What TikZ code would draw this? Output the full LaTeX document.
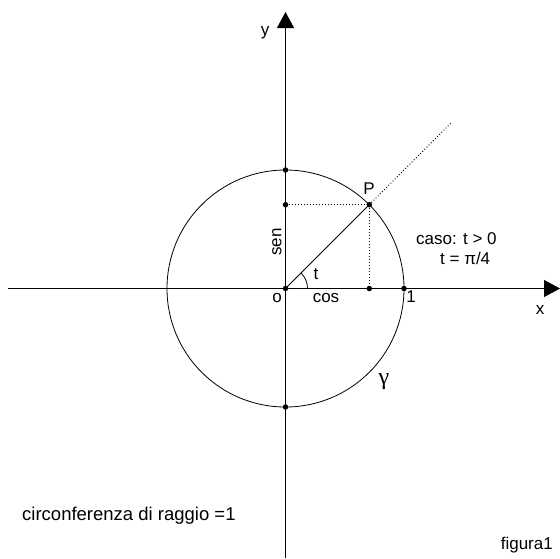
\documentclass[tikz,border=0pt]{standalone}
\usepackage{fontspec}
\setmainfont{Liberation Sans}
\newfontfamily\gfont{Liberation Serif}
\usetikzlibrary{arrows.meta}
\begin{document}
\begin{tikzpicture}[x=1pt,y=-1pt,
  axisline/.style={line width=0.8pt,-{Triangle[length=16pt,width=17pt]}},
  plain/.style={line width=0.8pt},
  dotline/.style={line width=0.8pt,dash pattern=on 1pt off 2pt},
  dotmark/.style={circle,fill,inner sep=0pt,minimum size=5.5pt},
  lbl/.style={font=\fontsize{17}{19}\selectfont,inner sep=0pt},
  biglbl/.style={font=\fontsize{18.5}{21}\selectfont,inner sep=0pt}]
\useasboundingbox (0,0) rectangle (560,558);
% points
\coordinate (O) at (285.5,288.5);
\coordinate (xs) at (8,288.5);
\coordinate (xe) at (560,288.5);
\coordinate (ys) at (285.5,558);
\coordinate (ye) at (285.5,12);
\coordinate (P) at (369.3,204.7);
\coordinate (S) at (285.5,204.7);
\coordinate (C) at (369.3,288.5);
\coordinate (U) at (404,288.5);
\coordinate (T) at (285.5,170);
\coordinate (B) at (285.5,407);
\coordinate (E) at (451.5,122.5);
% axes
\draw[axisline] (xs) -- (xe);
\draw[axisline] (ys) -- (ye);
% circle
\draw[plain] (O) circle[radius=118.5];
% radius and projections
\draw[plain] (O) -- (P);
\draw[dotline] (P) -- (E);
\draw[dotline] (S) -- (P) -- (C);
% angle
\draw[plain] ([xshift=22pt]O) arc[start angle=0,end angle=-45,radius=22];
% dots
\foreach \p in {O,P,S,C,U,T,B} \node[dotmark] (d\p) at (\p) {};
% labels
\node[lbl] (ly) at (265,33) {y};
\node[lbl] (lx) at (540,310) {x};
\node[lbl] (lP) at (369,189) {P};
\node[lbl] (lo) at (277,298) {o};
\node[lbl] (lcos) at (326,298) {cos};
\node[lbl] (lt) at (316,274) {t};
\node[lbl,rotate=90] (lsen) at (277,242) {sen};
\node[lbl] (l1) at (411,297) {1};
\node[lbl,anchor=west] (lcaso) at (416,239) {caso: t > 0};
\node[lbl,anchor=west] (lpi) at (440,258) {t = π/4};
\node[inner sep=0pt,font=\gfont\fontsize{24}{26}\selectfont] (lg) at (384,382) {γ};
\node[biglbl,anchor=west] (lcirc) at (22,516) {circonferenza di raggio =1};
\node[lbl,anchor=east] (lfig) at (553,545) {figura1};
\end{tikzpicture}
\end{document}
